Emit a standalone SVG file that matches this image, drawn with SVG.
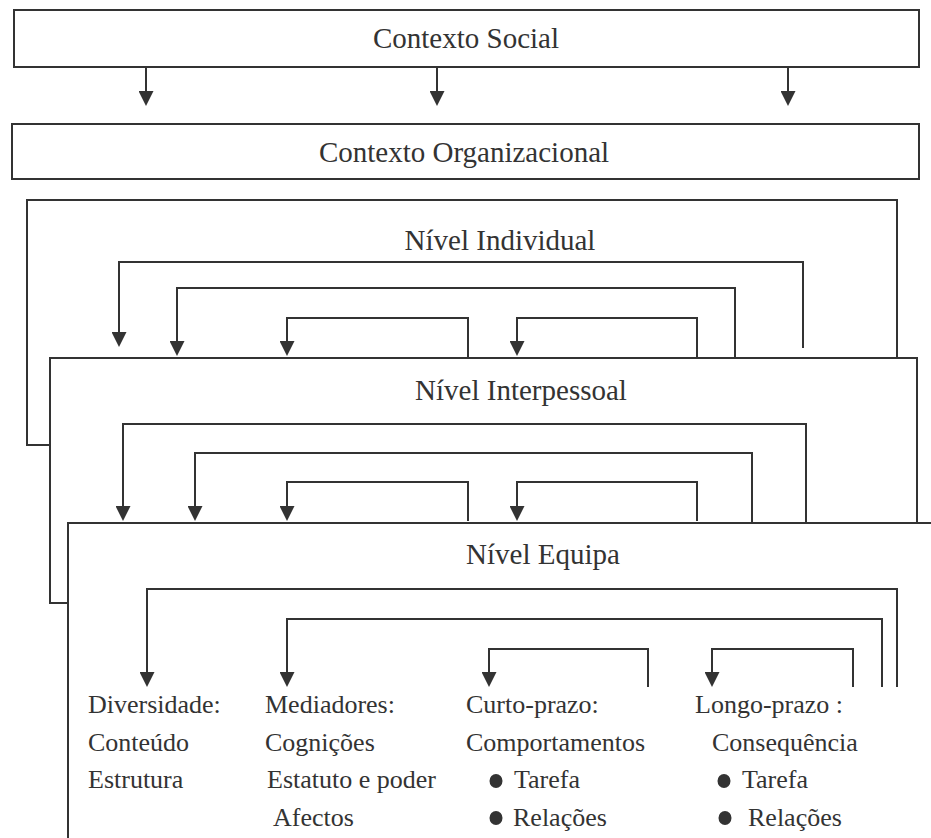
<svg xmlns="http://www.w3.org/2000/svg" width="931" height="838" viewBox="0 0 931 838">
<style>
.box{fill:#fff;stroke:#333;stroke-width:2}
.ln{fill:none;stroke:#333;stroke-width:2}
.t{font-family:"Liberation Serif","Times New Roman",serif;fill:#333}
.ti{font-size:29px;text-anchor:middle}
.b{font-size:26px}
.dot{fill:#333}
</style>
<defs>
<marker id="ah" viewBox="0 0 15 15" refX="13" refY="7.5" markerWidth="15" markerHeight="15" markerUnits="userSpaceOnUse" orient="auto">
<path d="M0,0 L15,7.5 L0,15 z" fill="#333"/>
</marker>
</defs>
<rect width="931" height="838" fill="#fff"/>

<g id="social">
<rect class="box" x="14" y="10" width="905" height="57"/>
<text class="t ti" x="466" y="48">Contexto Social</text>
</g>

<g id="organizacional">
<rect class="box" x="12" y="124" width="907" height="55"/>
<text class="t ti" x="464" y="162">Contexto Organizacional</text>
</g>

<g id="individual">
<rect class="box" x="27" y="200" width="870" height="245"/>
<text class="t ti" x="500" y="250">Nível Individual</text>
</g>

<g id="interpessoal">
<rect class="box" x="50" y="358" width="867" height="245"/>
<text class="t ti" x="521" y="400">Nível Interpessoal</text>
</g>

<g id="equipa">
<rect class="box" x="68" y="523" width="880" height="330"/>
<text class="t ti" x="543" y="564">Nível Equipa</text>
</g>

<g id="connectors">
<path class="ln" d="M146,67 V104" marker-end="url(#ah)"/>
<path class="ln" d="M437,67 V104" marker-end="url(#ah)"/>
<path class="ln" d="M788,67 V104" marker-end="url(#ah)"/>

<path class="ln" d="M803,348 V262 H119 V345" marker-end="url(#ah)"/>
<path class="ln" d="M735,358 V288 H177 V354" marker-end="url(#ah)"/>
<path class="ln" d="M468,358 V318 H287 V354" marker-end="url(#ah)"/>
<path class="ln" d="M697,358 V318 H517 V354" marker-end="url(#ah)"/>

<path class="ln" d="M806,523 V424 H123 V519" marker-end="url(#ah)"/>
<path class="ln" d="M752,523 V453 H195 V519" marker-end="url(#ah)"/>
<path class="ln" d="M468,521 V482 H287 V519" marker-end="url(#ah)"/>
<path class="ln" d="M697,521 V482 H517 V519" marker-end="url(#ah)"/>

<path class="ln" d="M897,687 V589 H147 V685" marker-end="url(#ah)"/>
<path class="ln" d="M882,687 V619 H287 V685" marker-end="url(#ah)"/>
<path class="ln" d="M648,687 V649 H489 V685" marker-end="url(#ah)"/>
<path class="ln" d="M853,687 V649 H712 V685" marker-end="url(#ah)"/>
</g>

<g id="diversidade">
<text class="t b" x="88" y="713">Diversidade:</text>
<text class="t b" x="88" y="751">Conteúdo</text>
<text class="t b" x="88" y="788">Estrutura</text>
</g>

<g id="mediadores">
<text class="t b" x="265" y="713">Mediadores:</text>
<text class="t b" x="265" y="751">Cognições</text>
<text class="t b" x="267" y="788">Estatuto e poder</text>
<text class="t b" x="273" y="826">Afectos</text>
</g>

<g id="curto">
<text class="t b" x="466" y="713">Curto-prazo:</text>
<text class="t b" x="466" y="751">Comportamentos</text>
<ellipse class="dot" cx="496" cy="781" rx="6.5" ry="7"/>
<text class="t b" x="514" y="788">Tarefa</text>
<ellipse class="dot" cx="496" cy="818" rx="6.5" ry="7"/>
<text class="t b" x="513" y="826">Relações</text>
</g>

<g id="longo">
<text class="t b" x="695" y="713">Longo-prazo :</text>
<text class="t b" x="712" y="751">Consequência</text>
<ellipse class="dot" cx="724" cy="781" rx="6.5" ry="7"/>
<text class="t b" x="742" y="788">Tarefa</text>
<ellipse class="dot" cx="725" cy="818" rx="6.5" ry="7"/>
<text class="t b" x="748" y="826">Relações</text>
</g>
</svg>
